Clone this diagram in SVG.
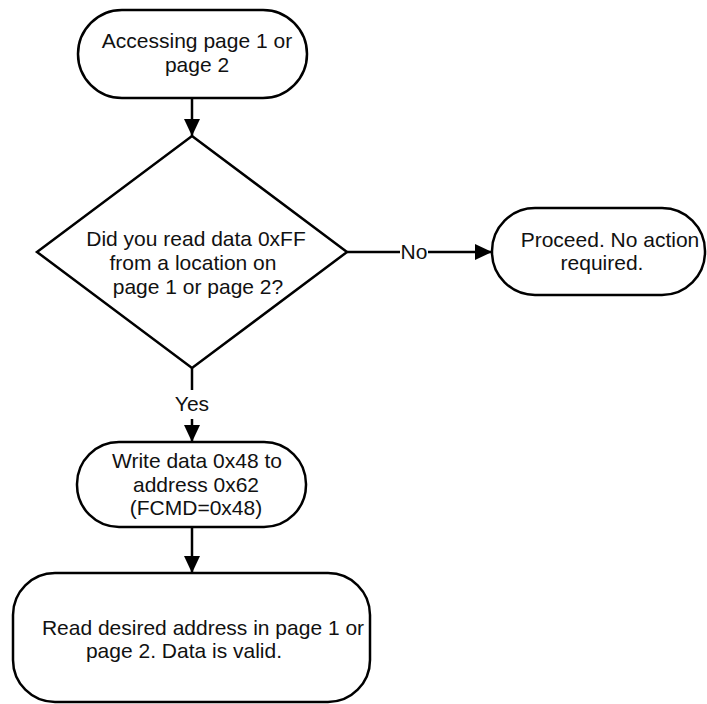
<svg xmlns="http://www.w3.org/2000/svg" width="707" height="704" viewBox="0 0 707 704">
<style>
.n{fill:#fff;stroke:#000;stroke-width:2.5}
.c{fill:none;stroke:#000;stroke-width:2.5}
text{font-family:"Liberation Sans",Arial,sans-serif;font-size:21px;fill:#111;text-anchor:middle}
</style>
<defs>
<marker id="a" markerUnits="userSpaceOnUse" markerWidth="18" markerHeight="18" viewBox="0 0 18 18" refX="17" refY="9" orient="auto">
<path d="M0,1 L17,9 L0,17 Z" fill="#000"/>
</marker>
</defs>
<rect width="707" height="704" fill="#fff"/>
<g id="connectors">
<line class="c" x1="192" y1="98" x2="192" y2="136" marker-end="url(#a)"/>
<line class="c" x1="192" y1="368" x2="192" y2="390"/>
<text x="192" y="411">Yes</text>
<line class="c" x1="192" y1="419" x2="192" y2="442" marker-end="url(#a)"/>
<line class="c" x1="192" y1="527" x2="192" y2="573" marker-end="url(#a)"/>
<line class="c" x1="347" y1="252" x2="400" y2="252"/>
<text x="414" y="259">No</text>
<line class="c" x1="428" y1="252" x2="492" y2="252" marker-end="url(#a)"/>
</g>
<g id="start">
<rect class="n" x="78" y="10" width="229" height="88" rx="44"/>
<text x="197" y="48">Accessing page 1 or</text>
<text x="197" y="72">page 2</text>
</g>
<g id="decision">
<polygon class="n" points="192,136 347,252 192,368 37,252"/>
<text x="196" y="246">Did you read data 0xFF</text>
<text x="193" y="270">from a location on</text>
<text x="198" y="294">page 1 or page 2?</text>
</g>
<g id="proceed">
<rect class="n" x="492" y="208" width="213" height="87" rx="43"/>
<text x="610" y="247">Proceed. No action</text>
<text x="602" y="270">required.</text>
</g>
<g id="write">
<rect class="n" x="77" y="442" width="229" height="85" rx="42"/>
<text x="197" y="468">Write data 0x48 to</text>
<text x="196" y="492">address 0x62</text>
<text x="196" y="515">(FCMD=0x48)</text>
</g>
<g id="read">
<rect class="n" x="13" y="573" width="357" height="129" rx="42"/>
<text x="203" y="635">Read desired address in page 1 or</text>
<text x="184" y="658">page 2. Data is valid.</text>
</g>
</svg>
